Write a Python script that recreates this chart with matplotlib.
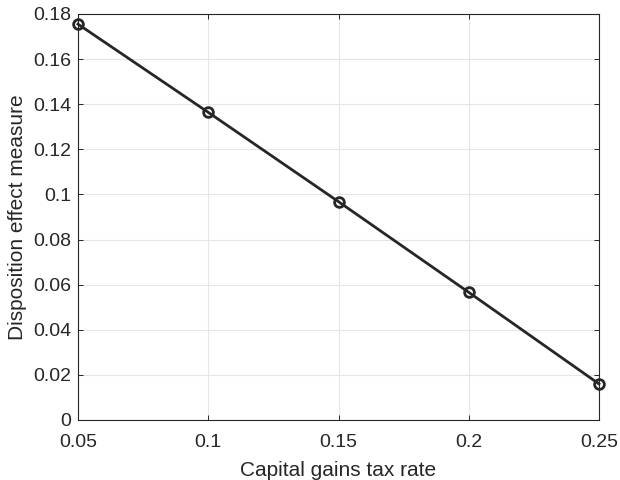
import matplotlib
matplotlib.use('Agg')
import matplotlib.pyplot as plt
from matplotlib.ticker import FuncFormatter

# data
tax_rate = [0.05, 0.10, 0.15, 0.20, 0.25]
disposition = [0.1755, 0.1364, 0.0968, 0.0566, 0.0160]

plt.rcParams['font.family'] = ['Liberation Sans', 'DejaVu Sans']

dark = '#262626'
fig = plt.figure(figsize=(6.2, 4.8), dpi=100)
ax = fig.add_axes([78/620, 60/480, 521/620, 406/480])

ax.plot(tax_rate, disposition, '-o', color=dark, lw=2.0,
        markersize=7, markerfacecolor='none', markeredgewidth=2.0,
        clip_on=False, zorder=3)

ax.set_xlim(0.05, 0.25)
ax.set_ylim(0, 0.18)
ax.set_xticks([0.05, 0.1, 0.15, 0.2, 0.25])
ax.set_yticks([0, 0.02, 0.04, 0.06, 0.08, 0.1, 0.12, 0.14, 0.16, 0.18])
fmt = FuncFormatter(lambda v, p: '{:g}'.format(round(v, 4)))
ax.xaxis.set_major_formatter(fmt)
ax.yaxis.set_major_formatter(fmt)

ax.grid(True, color='#e6e6e6', lw=0.8)
ax.set_axisbelow(True)
ax.tick_params(direction='in', length=3.5, width=0.7, colors=dark,
               labelsize=14, top=True, right=True)
ax.tick_params(axis='x', pad=10)
ax.tick_params(axis='y', pad=5)
for sp in ax.spines.values():
    sp.set_color(dark)
    sp.set_linewidth(0.8)

ax.set_xlabel('Capital gains tax rate', fontsize=15, color=dark, labelpad=7)
ax.set_ylabel('Disposition effect measure', fontsize=15, color=dark, labelpad=4)

fig.savefig('out.png', dpi=100)
